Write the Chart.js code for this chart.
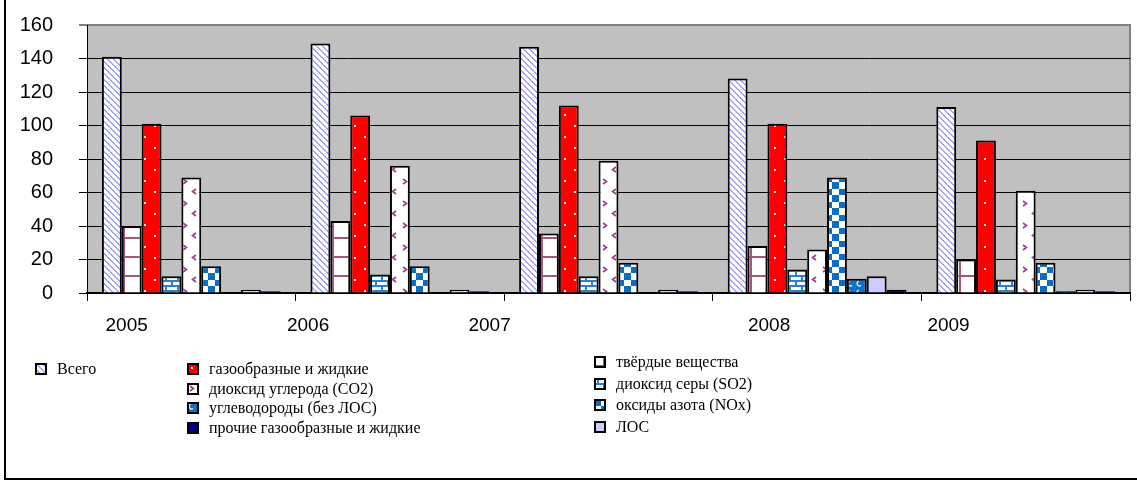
<!DOCTYPE html>
<html>
<head>
<meta charset="utf-8">
<script src="https://cdn.jsdelivr.net/npm/chart.js@4"></script>
<style>
  body { margin: 0; background: #fff; }
  #wrap { position: relative; width: 1137px; height: 484px; overflow: hidden; background: #fff; }
  #frame { position: absolute; left: 4px; top: -10px; width: 1200px; height: 488px;
           border-left: 2px solid #000; border-bottom: 2px solid #000; }
  #chart { position: absolute; left: 0; top: 0; }
  .lg-item { position: absolute; display: flex; align-items: center; white-space: nowrap;
             font-family: "Liberation Serif", "Times New Roman", serif; font-size: 16px; color: #000; }
  .lg-item canvas { margin-right: 10px; }
</style>
</head>
<body>
<div id="wrap">
  <div id="frame"></div>
  <canvas id="chart" width="1137" height="484"></canvas>
  <div id="legend"></div>
</div>
<script>
// --- data ---
const years = ['2005', '2006', '2007', '2008', '2009'];
const seriesNames = [
  'Всего',
  'твёрдые вещества',
  'газообразные и жидкие',
  'диоксид серы (SO2)',
  'диоксид углерода (CO2)',
  'оксиды азота (NOx)',
  'углеводороды (без ЛОС)',
  'ЛОС',
  'прочие газообразные и жидкие'
];
const vsego    = [141, 149, 147, 128, 111];
const tverdye  = [40, 43, 35.5, 28, 20];
const gazZhid  = [101, 106, 112, 101, 91];
const so2      = [10, 11, 10, 14, 8];
const co2      = [69, 76, 79, 26, 61];
const nox      = [16, 16, 18, 69, 18];
const uglevod  = [0, 0, 0, 8.5, 1];
const los      = [2, 2, 2, 10, 2];
const prochie  = [1, 1, 1, 2, 1];
const yTicks   = [0, 20, 40, 60, 80, 100, 120, 140, 160];

const seriesValues = [vsego, tverdye, gazZhid, so2, co2, nox, uglevod, los, prochie];

// legend arrangement (dataset indices per column)
const legendCols = [
  { left: 35, top: 360, step: 19.5, items: [0] },
  { left: 187, top: 360, step: 19.5, items: [2, 4, 6, 8] },
  { left: 594, top: 353, step: 21.7, items: [1, 3, 5, 7] }
];
// year labels sit left of the group centre in the original
const labelNudge = [-0.31, -0.44, -0.57, -0.23, -0.37];

const canvas = document.getElementById('chart');
const ctx = canvas.getContext('2d');

function tile(w, h, draw) {
  const c = document.createElement('canvas');
  c.width = w; c.height = h;
  const g = c.getContext('2d');
  draw(g, w, h);
  return ctx.createPattern(c, 'repeat');
}

const fills = [
  // Всего: light lavender diagonal hatch
  tile(6, 6, (g, w, h) => {
    g.fillStyle = '#fff'; g.fillRect(0, 0, w, h);
    g.fillStyle = '#a4a4ff';
    for (let y = 0; y < h; y++) { g.fillRect(y % w, y, 1, 1); g.fillRect((y + 1) % w, y, 1, 1); }
  }),
  // твёрдые вещества: plaid
  tile(19, 19, (g, w, h) => {
    g.fillStyle = '#fff'; g.fillRect(0, 0, w, h);
    g.fillStyle = '#a5557f';
    g.fillRect(9, 0, 2, h); g.fillRect(0, 9, w, 2);
  }),
  // газообразные и жидкие: red with white dots
  tile(20, 22, (g, w, h) => {
    g.fillStyle = '#ff0000'; g.fillRect(0, 0, w, h);
    g.fillStyle = '#fff';
    g.fillRect(4, 4, 2, 2); g.fillRect(14, 15, 2, 2);
  }),
  // SO2: blue brick
  tile(12, 10, (g, w, h) => {
    g.fillStyle = '#fff'; g.fillRect(0, 0, w, h);
    g.fillStyle = '#2a80d2';
    g.fillRect(0, 0, w, 2); g.fillRect(3, 2, 2, 3);
    g.fillRect(0, 5, w, 2); g.fillRect(9, 7, 2, 3);
  }),
  // CO2: white with purple chevrons
  tile(20, 22, (g, w, h) => {
    g.fillStyle = '#fff'; g.fillRect(0, 0, w, h);
    g.strokeStyle = '#9b3d8f'; g.lineWidth = 1.6;
    g.beginPath(); g.moveTo(3, 3); g.lineTo(6.5, 5.5); g.lineTo(3, 8); g.stroke();
    g.beginPath(); g.moveTo(16, 13); g.lineTo(12.5, 15.5); g.lineTo(16, 18); g.stroke();
  }),
  // NOx: blue checkerboard
  tile(13, 13, (g, w, h) => {
    g.fillStyle = '#fff'; g.fillRect(0, 0, w, h);
    g.fillStyle = '#0a6fc4';
    g.fillRect(0, 0, 7, 7); g.fillRect(7, 7, 6, 6);
  }),
  // углеводороды: blue with small white curls
  tile(9, 9, (g, w, h) => {
    g.fillStyle = '#1272c8'; g.fillRect(0, 0, w, h);
    g.strokeStyle = '#fff'; g.lineWidth = 1.2;
    g.beginPath(); g.arc(4.5, 4.5, 2.4, 0.3 * Math.PI, 1.4 * Math.PI); g.stroke();
  }),
  '#ccccff',
  '#000080'
];

const plotBackground = {
  id: 'plotBackground',
  beforeDraw(chart) {
    const a = chart.chartArea;
    const c = chart.ctx;
    c.save();
    c.fillStyle = '#c0c0c0';
    c.fillRect(a.left, a.top, a.right - a.left, a.bottom - a.top);
    c.strokeStyle = '#808080';
    c.lineWidth = 2;
    c.beginPath();
    c.moveTo(a.left, a.top); c.lineTo(a.right, a.top); c.lineTo(a.right, a.bottom);
    c.stroke();
    c.restore();
  }
};

const yearLabels = {
  id: 'yearLabels',
  afterDraw(chart) {
    const xs = chart.scales.x;
    const cw = xs.width / years.length;
    const c = chart.ctx;
    c.save();
    c.font = '19px Arial, "Liberation Sans", sans-serif';
    c.fillStyle = '#000';
    c.textAlign = 'center';
    c.textBaseline = 'middle';
    years.forEach((y, i) => {
      c.fillText(y, xs.getPixelForValue(i) + labelNudge[i] * cw, xs.top + 33);
    });
    c.restore();
  }
};

const datasets = seriesNames.map((name, i) => ({
  label: name,
  data: seriesValues[i],
  backgroundColor: fills[i],
  borderColor: '#000',
  borderWidth: 2,
  barPercentage: 1,
  categoryPercentage: 0.857
}));

new Chart(canvas, {
  type: 'bar',
  data: { labels: years, datasets },
  options: {
    responsive: false,
    animation: false,
    devicePixelRatio: 1,
    layout: { padding: { left: 0, top: 25, right: 7, bottom: 0 } },
    plugins: {
      legend: { display: false },
      tooltip: { enabled: false }
    },
    scales: {
      x: {
        offset: true,
        grid: { offset: true, drawOnChartArea: false, drawTicks: true, tickLength: 8, color: '#000', lineWidth: 1 },
        border: { color: '#000', width: 2 },
        ticks: { display: false },
        afterFit: (s) => { s.height = 191; }
      },
      y: {
        min: 0,
        max: 160,
        afterBuildTicks: (s) => { s.ticks = yTicks.map(v => ({ value: v })); },
        ticks: {
          color: '#000',
          padding: 26,
          font: { family: 'Arial, "Liberation Sans", sans-serif', size: 20 }
        },
        grid: {
          color: (c) => (c.tick && c.tick.value === 160 ? '#808080' : '#000'),
          lineWidth: (c) => (c.tick && c.tick.value === 160 ? 2 : 1),
          tickLength: 8
        },
        border: { color: '#000', width: 1 },
        afterFit: (s) => {
          s.width = 87;
          // tick padding is horizontal here; don't let it push the plot down
          s.paddingTop = 0;
          s.paddingBottom = 0;
        }
      }
    }
  },
  plugins: [plotBackground, yearLabels]
});

// --- legend ---
const legendEl = document.getElementById('legend');
legendCols.forEach(col => {
  col.items.forEach((idx, row) => {
    const item = document.createElement('div');
    item.className = 'lg-item';
    item.style.left = col.left + 'px';
    item.style.top = (col.top + row * col.step) + 'px';
    const sw = document.createElement('canvas');
    sw.width = 12; sw.height = 12;
    sw.style.width = '12px'; sw.style.height = '12px';
    const g = sw.getContext('2d');
    g.fillStyle = fills[idx];
    g.fillRect(0, 0, 12, 12);
    g.strokeStyle = '#000';
    g.lineWidth = 2;
    g.strokeRect(1, 1, 10, 10);
    item.appendChild(sw);
    const txt = document.createElement('span');
    txt.textContent = seriesNames[idx];
    item.appendChild(txt);
    legendEl.appendChild(item);
  });
});
</script>
</body>
</html>
